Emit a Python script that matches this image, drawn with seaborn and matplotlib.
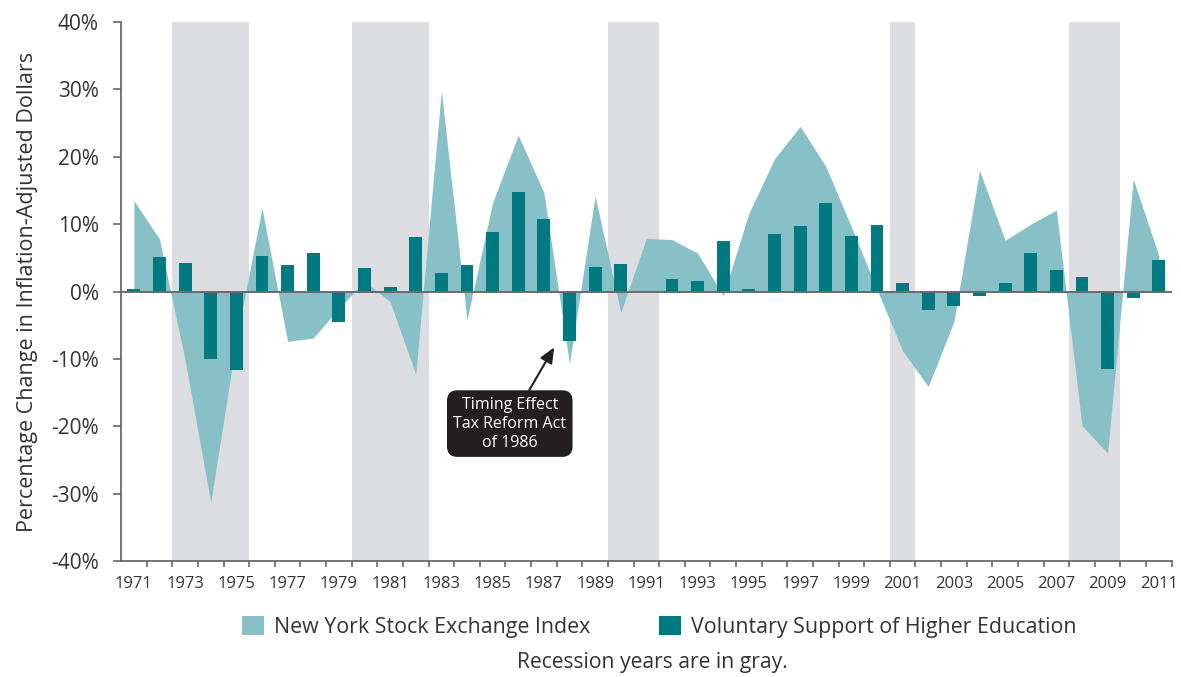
import numpy as np
import matplotlib
matplotlib.use("Agg")
import matplotlib.pyplot as plt
from matplotlib.patches import Patch
import seaborn as sns

# -----------------------------
# Data
# -----------------------------
years = list(range(1971, 2012))

nyse_change = [
    13.5, 7.8, -10.2, -31.3, -7.2, 12.4, -7.4, -6.9, -2.5, 1.5,
    -1.5, -12.3, 29.8, -4.2, 13.2, 23.2, 14.7, -10.7, 14.2, -3.1,
    7.9, 7.7, 5.7, -0.6, 11.6, 19.7, 24.5, 18.6, 9.6, 0.3,
    -8.8, -14.1, -4.5, 18.0, 7.6, 10.0, 12.1, -19.9, -24.0, 16.7,
    5.3,
]

support_change = [
    0.3, 5.1, 4.3, -10.0, -11.7, 5.3, 3.9, 5.7, -4.5, 3.5,
    0.7, 8.1, 2.8, 3.9, 8.9, 14.7, 10.8, -7.3, 3.6, 4.1,
    0.0, 1.8, 1.5, 7.5, 0.3, 8.5, 9.7, 13.1, 8.3, 9.9,
    1.3, -2.7, -2.2, -0.6, 1.3, 5.7, 3.2, 2.2, -11.5, -1.0,
    4.7,
]

recession_periods = [(1973, 1975), (1980, 1982), (1990, 1991), (2001, 2001), (2008, 2009)]

y_ticks = [-40, -30, -20, -10, 0, 10, 20, 30, 40]

# colours
area_color = "#88c0c8"
bar_color = "#007a80"
recession_color = "#dcdde0"
axis_color = "#6a6a6a"
text_color = "#333333"

sns.set_theme(style="white")
plt.rcParams["font.family"] = ["Open Sans", "DejaVu Sans"]

fig = plt.figure(figsize=(11.81, 6.77), dpi=100)
ax = fig.add_axes([0.1025, 0.1713, 0.8896, 0.7962])

pos = np.arange(len(years))

# recession shading
for start, end in recession_periods:
    ax.axvspan(years.index(start) - 0.5, years.index(end) + 0.5,
               color=recession_color, lw=0, zorder=0)

# NYSE index as area
ax.fill_between(pos, nyse_change, 0, color=area_color, lw=0, zorder=1)

# voluntary support as bars
sns.barplot(
    x=[str(y) for y in years],
    y=support_change,
    color=bar_color,
    saturation=1,
    width=0.5,
    linewidth=0,
    ax=ax,
    zorder=3,
)

ax.axhline(0, color=axis_color, lw=1.4, zorder=4)

ax.set_xlim(-0.5, len(years) - 0.5)
ax.set_ylim(-40, 40)

ax.set_xticks(pos[::2])
ax.set_xticklabels([str(y) for y in years[::2]], fontsize=12, color=text_color)
ax.set_xticks(np.arange(0.5, len(years), 1), minor=True)
ax.tick_params(axis="x", which="major", length=0, pad=11)
ax.tick_params(axis="x", which="minor", length=4, width=1.2,
               color=axis_color, direction="out", bottom=True)

ax.set_yticks(y_ticks)
ax.set_yticklabels([f"{v}%" for v in y_ticks], fontsize=15, color=text_color)
ax.tick_params(axis="y", length=6, width=1.2, color=axis_color,
               direction="out", left=True, pad=10)

for side in ["top", "right"]:
    ax.spines[side].set_visible(False)
for side in ["left", "bottom"]:
    ax.spines[side].set_color(axis_color)
    ax.spines[side].set_linewidth(1.3)

ax.set_xlabel("")
ax.set_ylabel("Percentage Change in Inflation-Adjusted Dollars",
              fontsize=15.5, color=text_color)
ax.yaxis.set_label_coords(-0.079, 0.5)

# annotation for 1988 dip
ax.annotate(
    "Timing Effect\nTax Reform Act\nof 1986",
    xy=(16.4, -8.3),
    xytext=(14.67, -19.6),
    ha="center", va="center",
    fontsize=11.5, color="white",
    linespacing=1.25,
    bbox=dict(boxstyle="round,pad=0.35,rounding_size=0.6",
              fc="#231f20", ec="#231f20"),
    arrowprops=dict(arrowstyle="-|>,head_length=0.8,head_width=0.35",
                    color="#231f20", lw=1.5, shrinkA=0, shrinkB=0),
    zorder=6,
)

# legend
handles = [
    Patch(facecolor=area_color, edgecolor="none", label="New York Stock Exchange Index"),
    Patch(facecolor=bar_color, edgecolor="none", label="Voluntary Support of Higher Education"),
]
fig.legend(
    handles=handles,
    loc="center",
    bbox_to_anchor=(0.558, 0.074),
    ncol=2,
    frameon=False,
    fontsize=15.4,
    handlelength=1.03,
    handleheight=1.03,
    handletextpad=0.47,
    columnspacing=3.2,
    labelcolor=text_color,
)

fig.text(0.552, 0.021, "Recession years are in gray.",
         ha="center", va="center", fontsize=15.2, color=text_color)

fig.savefig("out.png", dpi=100)
plt.close(fig)
